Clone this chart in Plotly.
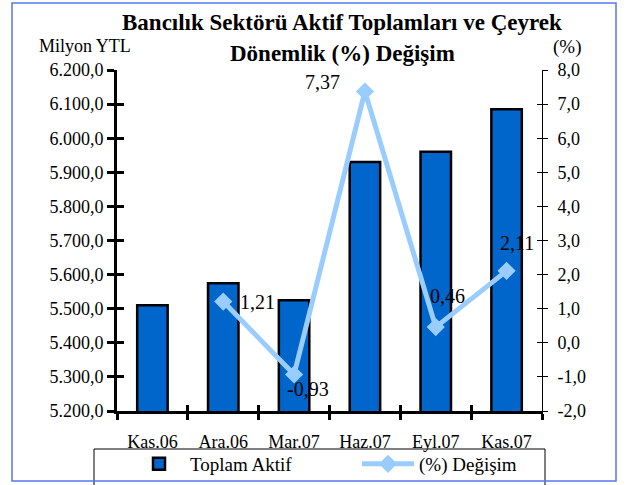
import plotly.graph_objects as go

categories = ["Kas.06", "Ara.06", "Mar.07", "Haz.07", "Eyl.07", "Kas.07"]
toplam_aktif = [5510, 5575, 5525, 5930, 5960, 6085]
degisim = [None, 1.21, -0.93, 7.37, 0.46, 2.11]
degisim_labels = ["" if v is None else f"{v:.2f}".replace(".", ",") for v in degisim]

left_tickvals = [5200, 5300, 5400, 5500, 5600, 5700, 5800, 5900, 6000, 6100, 6200]
left_ticktext = ["5.200,0", "5.300,0", "5.400,0", "5.500,0", "5.600,0", "5.700,0",
                 "5.800,0", "5.900,0", "6.000,0", "6.100,0", "6.200,0"]
right_tickvals = [-2, -1, 0, 1, 2, 3, 4, 5, 6, 7, 8]
right_ticktext = ["-2,0", "-1,0", "0,0", "1,0", "2,0", "3,0", "4,0", "5,0", "6,0", "7,0", "8,0"]

# label offsets in pixels (style only): (right, up)
label_dx = [0, 34, 14, -42, 12, 10]
label_dy = [0, 0, -14, 9, 31, 28]

W, H = 627, 485
L, R, T, B = 117, 542, 70, 411
def px(x):
    return (x - L) / (R - L)
def py(y):
    return (B - y) / (B - T)

FONT = "Liberation Serif"

fig = go.Figure()
fig.add_trace(go.Bar(
    x=categories, y=toplam_aktif, name="Toplam Aktif",
    marker=dict(color="#0066CC", line=dict(color="black", width=2.5)),
    width=0.43, xaxis="x", yaxis="y", legend="legend",
))
fig.add_trace(go.Scatter(
    x=categories, y=degisim, name="(%) Değişim", xaxis="x", yaxis="y2",
    mode="lines+markers",
    line=dict(color="#99CCFF", width=5),
    marker=dict(symbol="diamond", size=14, color="#99CCFF"),
    cliponaxis=False, legend="legend2",
))
# empty helper traces so the inner tick marks (crossing ticks) are drawn
fig.add_trace(go.Scatter(x=categories, y=[None] * len(categories), xaxis="x2", yaxis="y3",
                         showlegend=False, hoverinfo="skip", mode="lines"))
fig.add_trace(go.Scatter(x=categories, y=[None] * len(categories), xaxis="x2", yaxis="y4",
                         showlegend=False, hoverinfo="skip", mode="lines"))

# data labels anchored to the data points
for cat, val, txt, dx, dy in zip(categories, degisim, degisim_labels, label_dx, label_dy):
    if val is None:
        continue
    fig.add_annotation(x=cat, y=val, xref="x", yref="y2", text=txt, showarrow=False,
                       xanchor="center", yanchor="middle", xshift=dx, yshift=dy,
                       font=dict(family=FONT, size=20, color="black"))

legend_common = dict(orientation="h", yanchor="middle", xanchor="left",
                     bgcolor="rgba(0,0,0,0)", borderwidth=0, itemwidth=52,
                     font=dict(family=FONT, size=19))

fig.update_layout(
    width=W, height=H,
    margin=dict(l=L, r=W - R, t=T, b=H - B, autoexpand=False),
    paper_bgcolor="white", plot_bgcolor="white",
    font=dict(family=FONT, size=18, color="black"),
    showlegend=True,
    legend=dict(x=px(128), y=py(464), **legend_common),
    legend2=dict(x=px(357), y=py(464), **legend_common),
    xaxis=dict(type="category", categoryarray=categories, range=[-0.5, 5.5],
               showline=True, linecolor="black", linewidth=3,
               ticks="outside", tickson="boundaries", ticklen=6, tickwidth=3,
               tickcolor="black", showgrid=False, zeroline=False,
               ticklabelstandoff=12, tickfont=dict(family=FONT, size=18)),
    xaxis2=dict(type="category", categoryarray=categories, range=[-0.5, 5.5],
                overlaying="x", side="bottom", showticklabels=False,
                ticks="inside", tickson="boundaries", ticklen=6, tickwidth=3,
                tickcolor="black", showline=False, showgrid=False, zeroline=False),
    yaxis=dict(range=[5200, 6200], tickvals=left_tickvals, ticktext=left_ticktext,
               showline=True, linecolor="black", linewidth=3,
               ticks="outside", ticklen=7, tickwidth=3, tickcolor="black",
               showgrid=False, zeroline=False, tickfont=dict(family=FONT, size=18)),
    yaxis2=dict(range=[-2, 8], tickvals=right_tickvals, ticktext=right_ticktext,
                overlaying="y", side="right",
                showline=True, linecolor="black", linewidth=1,
                ticks="outside", ticklen=5, tickwidth=1, tickcolor="black",
                ticklabelstandoff=6,
                showgrid=False, zeroline=False, tickfont=dict(family=FONT, size=18)),
    yaxis3=dict(range=[5200, 6200], tickvals=left_tickvals, overlaying="y", side="left",
                showticklabels=False, ticks="inside", ticklen=7, tickwidth=3,
                tickcolor="black", showline=False, showgrid=False, zeroline=False),
    yaxis4=dict(range=[-2, 8], tickvals=right_tickvals, overlaying="y", side="right",
                showticklabels=False, ticks="inside", ticklen=5, tickwidth=1,
                tickcolor="black", showline=False, showgrid=False, zeroline=False),
)

def note(text, x, y, size):
    fig.add_annotation(text=text, xref="paper", yref="paper", x=px(x), y=py(y),
                       xanchor="center", yanchor="middle", showarrow=False,
                       font=dict(family=FONT, size=size))

note("<b>Bancılık Sektörü Aktif Toplamları ve Çeyrek</b>", 342, 23, 23)
note("<b>Dönemlik (%) Değişim</b>", 342, 53, 23)
note("Milyon YTL", 85, 46, 18)
note("(%)", 567, 47, 19)

# legend frame
fig.add_shape(type="rect", xref="paper", yref="paper",
              x0=px(94), x1=px(545), y0=py(495), y1=py(449),
              line=dict(color="black", width=1), layer="below")
# outer chart border
fig.add_shape(type="rect", xref="paper", yref="paper",
              x0=px(12), x1=px(616), y0=py(481), y1=py(3),
              line=dict(color="#5577EE", width=1.5), layer="below")

fig.write_html("out.html", config={"displayModeBar": False},
               post_script="document.body.style.margin='0';")
